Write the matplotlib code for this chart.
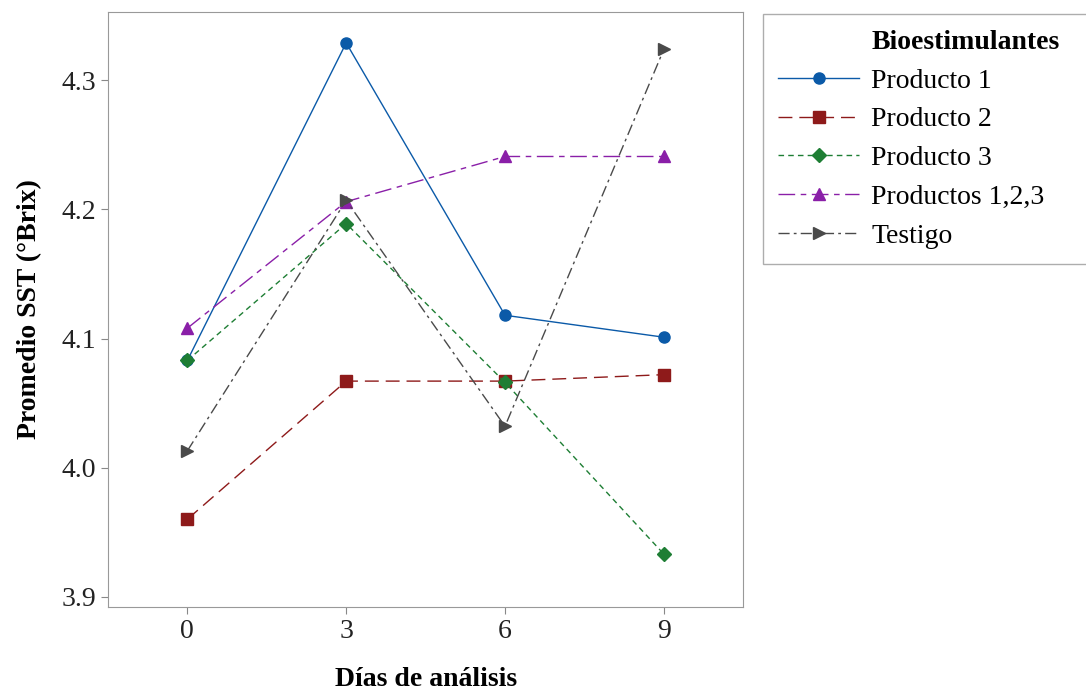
import matplotlib
matplotlib.use("Agg")
import matplotlib.pyplot as plt
from matplotlib.lines import Line2D

plt.rcParams["font.family"] = ["Liberation Serif", "DejaVu Serif"]

dias = [0, 3, 6, 9]
producto_1 = [4.083, 4.329, 4.118, 4.101]
producto_2 = [3.960, 4.067, 4.067, 4.072]
producto_3 = [4.083, 4.189, 4.066, 3.933]
productos_123 = [4.108, 4.206, 4.241, 4.241]
testigo = [4.013, 4.207, 4.032, 4.324]

series = [
    ("Producto 1", producto_1, "#0B5AA8", "o", "-"),
    ("Producto 2", producto_2, "#8E1A1A", "s", (0, (10, 5))),
    ("Producto 3", producto_3, "#1E7E34", "D", (0, (4, 3))),
    ("Productos 1,2,3", productos_123, "#8A1FA8", "^", (0, (12, 4, 4, 4))),
    ("Testigo", testigo, "#4A4A4A", ">", (0, (8, 3, 2, 3))),
]

fig = plt.figure(figsize=(10.86, 6.92), dpi=100)
ax = fig.add_axes([0.0994, 0.1228, 0.585, 0.86])

handles = [Line2D([], [], linestyle="none", label="Bioestimulantes")]
for name, vals, color, marker, ls in series:
    ms = {"o": 8, "s": 8, "D": 7.5, "^": 9, ">": 9}[marker]
    (ln,) = ax.plot(dias, vals, color=color, marker=marker, markersize=ms,
                    linestyle=ls, linewidth=1.0, label=name,
                    markeredgecolor=color)
    handles.append(ln)

ax.set_xlim(-1.5, 10.5)
ax.set_ylim(3.892, 4.353)
ax.set_xticks(dias)
ax.set_yticks([3.9, 4.0, 4.1, 4.2, 4.3])
ax.set_yticklabels(["3.9", "4.0", "4.1", "4.2", "4.3"])
ax.tick_params(labelsize=20, color="#888888", length=5, labelcolor="#222222")
for s in ax.spines.values():
    s.set_color("#999999")

ax.set_xlabel("Días de análisis", fontsize=20, fontweight="bold", labelpad=17)
ax.set_ylabel("Promedio SST (°Brix)", fontsize=20, fontweight="bold", labelpad=14)

x0 = 763 / 1086
y_top = 1 - 14 / 692
h = 244 / 692
leg = fig.legend(handles=handles, loc="upper left", mode="expand",
                 bbox_to_anchor=(x0, y_top - h, 1.02 - x0, h),
                 fontsize=20, frameon=True, fancybox=False,
                 handlelength=2.9, handletextpad=0.45, labelspacing=0.48,
                 borderpad=0.55, borderaxespad=0)
leg.get_frame().set_edgecolor("#999999")
leg.get_frame().set_linewidth(1.0)
leg.get_texts()[0].set_fontweight("bold")

fig.savefig("out.png", dpi=100)
